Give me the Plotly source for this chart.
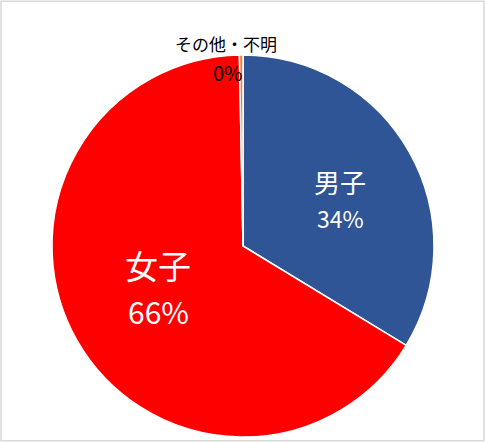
from plotly import graph_objects as go

# 性別の内訳
labels = ["男子", "女子", "その他・不明"]
values = [33.7, 66.0, 0.3]
colors = ["#2F5597", "#FF0000", "#ED7D31"]

W, H = 485, 442
cx, cy, r = 243, 246, 191

fig = go.Figure(go.Pie(
    labels=labels, values=values, sort=False, direction="clockwise", rotation=0,
    marker=dict(colors=colors, line=dict(color="white", width=1.5)),
    textinfo="none", hoverinfo="label+percent", showlegend=False,
    domain=dict(x=[(cx - r) / W, (cx + r) / W], y=[(H - cy - r) / H, (H - cy + r) / H]),
))

total = sum(values)
pct = ["%d%%" % round(v / total * 100) for v in values]

# ラベル位置 (px) と書式
pos = [((340, 181), (340, 218), 26, 23, "white"),
       ((158, 265), (158, 311), 33, 30, "white"),
       ((226, 44), (228, 73), 17, 20, "black")]
font = "Noto Sans CJK JP"
anns = []
for lab, p, (p1, p2, s1, s2, c) in zip(labels, pct, pos):
    for txt, xy, s in ((lab, p1, s1), (p, p2, s2)):
        anns.append(dict(x=xy[0] / W, y=1 - xy[1] / H, xref="paper", yref="paper", text=txt,
                         xanchor="center", yanchor="middle", showarrow=False,
                         font=dict(family=font, size=s, color=c)))

fig.update_layout(
    width=W, height=H, margin=dict(l=0, r=0, t=0, b=0),
    paper_bgcolor="white", annotations=anns,
    shapes=[dict(type="rect", xref="paper", yref="paper", x0=0.002, y0=0.003, x1=0.998, y1=0.997,
                 line=dict(color="#D9D9D9", width=1.5))],
)
fig.write_html("out.html", config={"displayModeBar": False},
               post_script="document.body.style.margin='0';")
